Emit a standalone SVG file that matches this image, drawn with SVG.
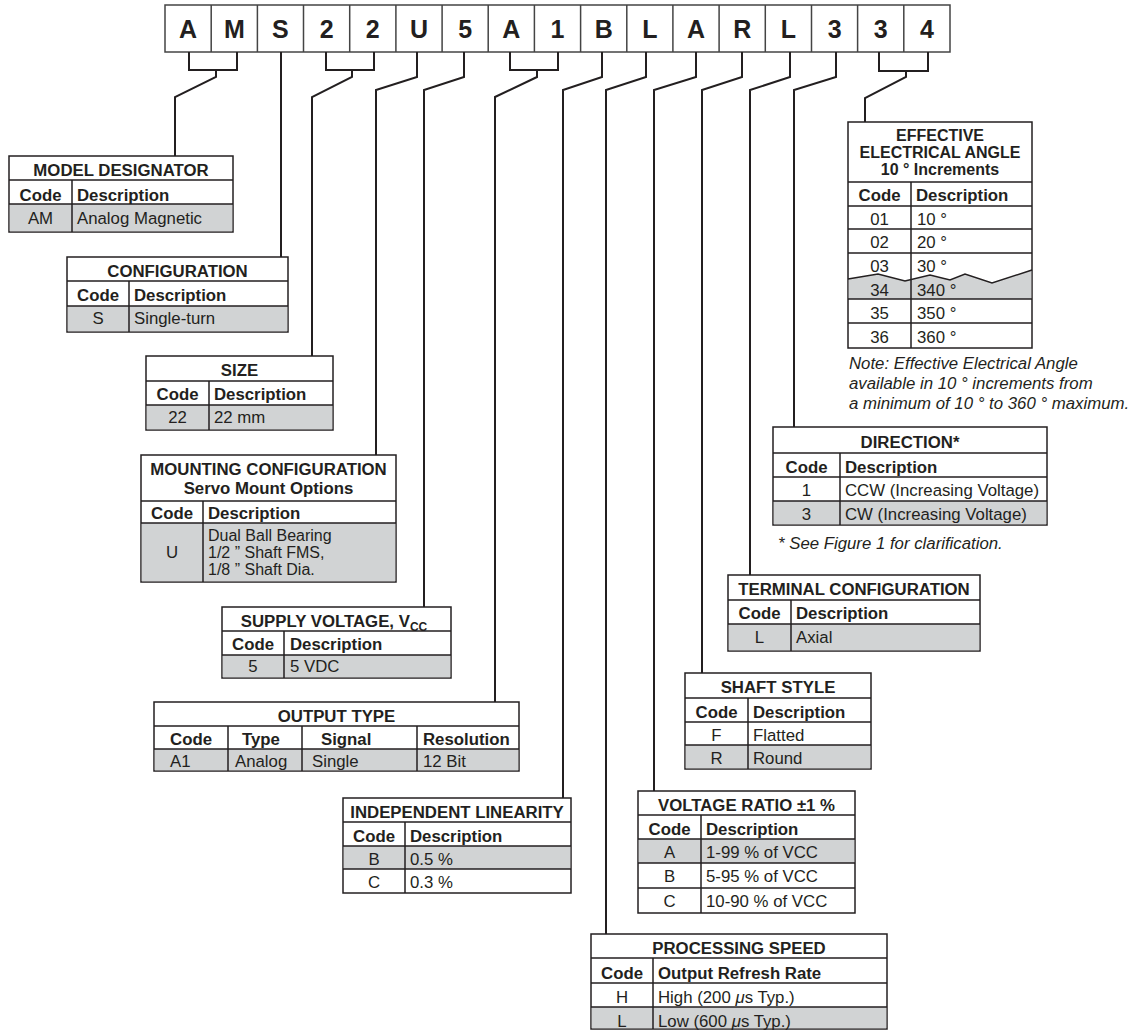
<svg xmlns="http://www.w3.org/2000/svg" width="1133" height="1030" viewBox="0 0 1133 1030">
<style>
.bx{fill:#fff;stroke:#231f20;stroke-width:1.5}
.gr{fill:#d1d3d4;stroke:none}
.ln{fill:none;stroke:#231f20;stroke-width:1.5}
.conn{fill:none;stroke:#231f20;stroke-width:2;stroke-linejoin:miter}
.t{font-family:"Liberation Sans",Arial,Helvetica,sans-serif;font-size:16.8px;fill:#231f20}
.s{font-size:16px}
.b{font-weight:bold}
.c{text-anchor:middle}
.i{font-style:italic}
.big{font-family:"Liberation Sans",Arial,Helvetica,sans-serif;font-size:25px;font-weight:bold;fill:#231f20;text-anchor:middle}
</style>
<rect width="1133" height="1030" fill="#fff"/>

<g id="part-number">
<rect x="165" y="5" width="785" height="47" fill="#fff" stroke="#444" stroke-width="1.5"/>
<path fill="none" stroke="#444" stroke-width="1.5" d="M211.2,5V52M257.4,5V52M303.5,5V52M349.7,5V52M395.9,5V52M442.1,5V52M488.2,5V52M534.4,5V52M580.6,5V52M626.8,5V52M672.9,5V52M719.1,5V52M765.3,5V52M811.5,5V52M857.6,5V52M903.8,5V52"/>
<text class="big" x="188.1" y="38">A</text>
<text class="big" x="234.3" y="38">M</text>
<text class="big" x="280.4" y="38">S</text>
<text class="big" x="326.6" y="38">2</text>
<text class="big" x="372.8" y="38">2</text>
<text class="big" x="419" y="38">U</text>
<text class="big" x="465.2" y="38">5</text>
<text class="big" x="511.3" y="38">A</text>
<text class="big" x="557.5" y="38">1</text>
<text class="big" x="603.7" y="38">B</text>
<text class="big" x="649.9" y="38">L</text>
<text class="big" x="696" y="38">A</text>
<text class="big" x="742.2" y="38">R</text>
<text class="big" x="788.4" y="38">L</text>
<text class="big" x="834.6" y="38">3</text>
<text class="big" x="880.7" y="38">3</text>
<text class="big" x="926.9" y="38">4</text>
</g>

<g id="connectors">
<path class="conn" d="M189,52V70H237V52M216,70V77L175,97V156"/>
<path class="conn" d="M281,52V257"/>
<path class="conn" d="M326,52V70H374V52M352,70V77L312,97V356"/>
<path class="conn" d="M417,52V77L376,90V455"/>
<path class="conn" d="M464,52V77L424,90V607"/>
<path class="conn" d="M510,52V70H558V52M537,70V77L495,97V702"/>
<path class="conn" d="M602,52V77L563,90V798"/>
<path class="conn" d="M646,52V77L606,90V934"/>
<path class="conn" d="M696,52V77L654,90V791"/>
<path class="conn" d="M742,52V77L702,90V673"/>
<path class="conn" d="M790,52V77L750,90V575"/>
<path class="conn" d="M836,52V77L794,90V427"/>
<path class="conn" d="M879,52V71H928V52M906,71V77L865,98V122"/>
</g>

<g id="model-designator">
<rect class="bx" x="9" y="156" width="224" height="76"/>
<rect class="gr" x="9.75" y="204" width="222.5" height="27.25"/>
<path class="ln" d="M9,180H233M9,204H233M72,180V232"/>
<text class="t b c" x="121" y="176">MODEL DESIGNATOR</text>
<text class="t b c" x="40.5" y="201">Code</text>
<text class="t b" x="77" y="201">Description</text>
<text class="t c" x="40.5" y="224">AM</text>
<text class="t" x="77" y="224">Analog Magnetic</text>
</g>

<g id="configuration">
<rect class="bx" x="67" y="257" width="221" height="75"/>
<rect class="gr" x="67.75" y="306" width="219.5" height="25.25"/>
<path class="ln" d="M67,281H288M67,306H288M129,281V332"/>
<text class="t b c" x="177.5" y="277">CONFIGURATION</text>
<text class="t b c" x="98" y="301">Code</text>
<text class="t b" x="134" y="301">Description</text>
<text class="t c" x="98" y="324">S</text>
<text class="t" x="134" y="324">Single-turn</text>
</g>

<g id="size">
<rect class="bx" x="146" y="356" width="187" height="74"/>
<rect class="gr" x="146.75" y="405" width="185.5" height="24.25"/>
<path class="ln" d="M146,381H333M146,405H333M209,381V430"/>
<text class="t b c" x="239.5" y="376">SIZE</text>
<text class="t b c" x="177.5" y="400">Code</text>
<text class="t b" x="214" y="400">Description</text>
<text class="t c" x="177.5" y="423">22</text>
<text class="t" x="214" y="423">22 mm</text>
</g>

<g id="mounting-configuration">
<rect class="bx" x="141" y="455" width="255" height="127"/>
<rect class="gr" x="141.75" y="523" width="253.5" height="58.25"/>
<path class="ln" d="M141,501H396M141,523H396M203,501V582"/>
<text class="t b c" x="268.5" y="475">MOUNTING CONFIGURATION</text>
<text class="t b c" x="268.5" y="494">Servo Mount Options</text>
<text class="t b c" x="172" y="519">Code</text>
<text class="t b" x="208" y="519">Description</text>
<text class="t c" x="172" y="558">U</text>
<text class="t s" x="208" y="541">Dual Ball Bearing</text>
<text class="t s" x="208" y="558">1/2 ” Shaft FMS,</text>
<text class="t s" x="208" y="575">1/8 ” Shaft Dia.</text>
</g>

<g id="supply-voltage">
<rect class="bx" x="222" y="607" width="229" height="71"/>
<rect class="gr" x="222.75" y="655" width="227.5" height="22.25"/>
<path class="ln" d="M222,631H451M222,655H451M284,631V678"/>
<text class="t b c" x="334" y="627">SUPPLY VOLTAGE, V<tspan font-size="12" dy="4">CC</tspan></text>
<text class="t b c" x="253" y="650">Code</text>
<text class="t b" x="290" y="650">Description</text>
<text class="t c" x="253" y="672">5</text>
<text class="t" x="290" y="672">5 VDC</text>
</g>

<g id="output-type">
<rect class="bx" x="154" y="702" width="365" height="69"/>
<rect class="gr" x="154.75" y="749" width="363.5" height="21.25"/>
<path class="ln" d="M154,726H519M154,749H519M228,726V771M302,726V771M417,726V771"/>
<text class="t b c" x="336.5" y="722">OUTPUT TYPE</text>
<text class="t b c" x="191" y="745">Code</text>
<text class="t b c" x="261" y="745">Type</text>
<text class="t b" x="321" y="745">Signal</text>
<text class="t b" x="423" y="745">Resolution</text>
<text class="t" x="170" y="767">A1</text>
<text class="t" x="235" y="767">Analog</text>
<text class="t" x="312" y="767">Single</text>
<text class="t" x="423" y="767">12 Bit</text>
</g>

<g id="independent-linearity">
<rect class="bx" x="343" y="798" width="228" height="95"/>
<rect class="gr" x="343.75" y="846" width="226.5" height="23"/>
<path class="ln" d="M343,822H571M343,846H571M343,869H571M405,822V893"/>
<text class="t b c" x="457" y="818">INDEPENDENT LINEARITY</text>
<text class="t b c" x="374" y="842">Code</text>
<text class="t b" x="410" y="842">Description</text>
<text class="t c" x="374" y="865">B</text>
<text class="t" x="410" y="865">0.5 %</text>
<text class="t c" x="374" y="888">C</text>
<text class="t" x="410" y="888">0.3 %</text>
</g>

<g id="voltage-ratio">
<rect class="bx" x="638" y="791" width="217" height="122"/>
<rect class="gr" x="638.75" y="839" width="215.5" height="24"/>
<path class="ln" d="M638,815H855M638,839H855M638,863H855M638,888H855M701,815V913"/>
<text class="t b c" x="746.5" y="811">VOLTAGE RATIO ±1 %</text>
<text class="t b c" x="669.5" y="835">Code</text>
<text class="t b" x="706" y="835">Description</text>
<text class="t c" x="669.5" y="858">A</text>
<text class="t" x="706" y="858">1-99 % of VCC</text>
<text class="t c" x="669.5" y="882">B</text>
<text class="t" x="706" y="882">5-95 % of VCC</text>
<text class="t c" x="669.5" y="907">C</text>
<text class="t" x="706" y="907">10-90 % of VCC</text>
</g>

<g id="processing-speed">
<rect class="bx" x="591" y="934" width="296" height="95"/>
<rect class="gr" x="591.75" y="1007" width="294.5" height="21.25"/>
<path class="ln" d="M591,958H887M591,983H887M591,1007H887M653,958V1029"/>
<text class="t b c" x="739" y="954">PROCESSING SPEED</text>
<text class="t b c" x="622" y="979">Code</text>
<text class="t b" x="658" y="979">Output Refresh Rate</text>
<text class="t c" x="622" y="1003">H</text>
<text class="t" x="658" y="1003">High (200 <tspan class="i">μ</tspan>s Typ.)</text>
<text class="t c" x="622" y="1027">L</text>
<text class="t" x="658" y="1027">Low (600 <tspan class="i">μ</tspan>s Typ.)</text>
</g>

<g id="shaft-style">
<rect class="bx" x="685" y="673" width="186" height="96"/>
<rect class="gr" x="685.75" y="745" width="184.5" height="23.25"/>
<path class="ln" d="M685,698H871M685,722H871M685,745H871M748,698V769"/>
<text class="t b c" x="778" y="693">SHAFT STYLE</text>
<text class="t b c" x="716.5" y="718">Code</text>
<text class="t b" x="753" y="718">Description</text>
<text class="t c" x="716.5" y="741">F</text>
<text class="t" x="753" y="741">Flatted</text>
<text class="t c" x="716.5" y="764">R</text>
<text class="t" x="753" y="764">Round</text>
</g>

<g id="terminal-configuration">
<rect class="bx" x="728" y="575" width="252" height="76"/>
<rect class="gr" x="728.75" y="624" width="250.5" height="26.25"/>
<path class="ln" d="M728,600H980M728,624H980M791,600V651"/>
<text class="t b c" x="854" y="595">TERMINAL CONFIGURATION</text>
<text class="t b c" x="759.5" y="619">Code</text>
<text class="t b" x="796" y="619">Description</text>
<text class="t c" x="759.5" y="643">L</text>
<text class="t" x="796" y="643">Axial</text>
</g>

<g id="direction">
<rect class="bx" x="773" y="427" width="274" height="98"/>
<rect class="gr" x="773.75" y="501" width="272.5" height="23.25"/>
<path class="ln" d="M773,453H1047M773,477H1047M773,501H1047M840,453V525"/>
<text class="t b c" x="910" y="448">DIRECTION*</text>
<text class="t b c" x="806.5" y="473">Code</text>
<text class="t b" x="845" y="473">Description</text>
<text class="t c" x="806.5" y="496">1</text>
<text class="t" x="845" y="496">CCW (Increasing Voltage)</text>
<text class="t c" x="806.5" y="520">3</text>
<text class="t" x="845" y="520">CW (Increasing Voltage)</text>
<text class="t i" x="778" y="549">* See Figure 1 for clarification.</text>
</g>

<g id="effective-electrical-angle">
<rect class="bx" x="848" y="122" width="184" height="226"/>
<polygon class="gr" points="848.75,279 878,274 905,281 930,275 950,280 965,274 992,283 1031.25,270 1031.25,299 848.75,299"/>
<polyline class="ln" points="848,279 878,274 905,281 930,275 950,280 965,274 992,283 1032,270"/>
<path class="ln" d="M848,182H1032M848,206H1032M848,229H1032M848,253H1032M848,299H1032M848,323H1032M911,182V348"/>
<text class="t b c s" x="940" y="141">EFFECTIVE</text>
<text class="t b c s" x="940" y="158">ELECTRICAL ANGLE</text>
<text class="t b c s" x="940" y="175">10 ° Increments</text>
<text class="t b c" x="879.5" y="200.7">Code</text>
<text class="t b" x="916" y="200.7">Description</text>
<text class="t c" x="879.5" y="225">01</text>
<text class="t" x="917" y="225">10 °</text>
<text class="t c" x="879.5" y="248">02</text>
<text class="t" x="917" y="248">20 °</text>
<text class="t c" x="879.5" y="271.7">03</text>
<text class="t" x="917" y="271.7">30 °</text>
<text class="t c" x="879.5" y="296">34</text>
<text class="t" x="917" y="296">340 °</text>
<text class="t c" x="879.5" y="319">35</text>
<text class="t" x="917" y="319">350 °</text>
<text class="t c" x="879.5" y="343">36</text>
<text class="t" x="917" y="343">360 °</text>
<text class="t i" x="849" y="369">Note: Effective Electrical Angle</text>
<text class="t i" x="849" y="389">available in 10 ° increments from</text>
<text class="t i" x="849" y="409">a minimum of 10 ° to 360 ° maximum.</text>
</g>
</svg>
